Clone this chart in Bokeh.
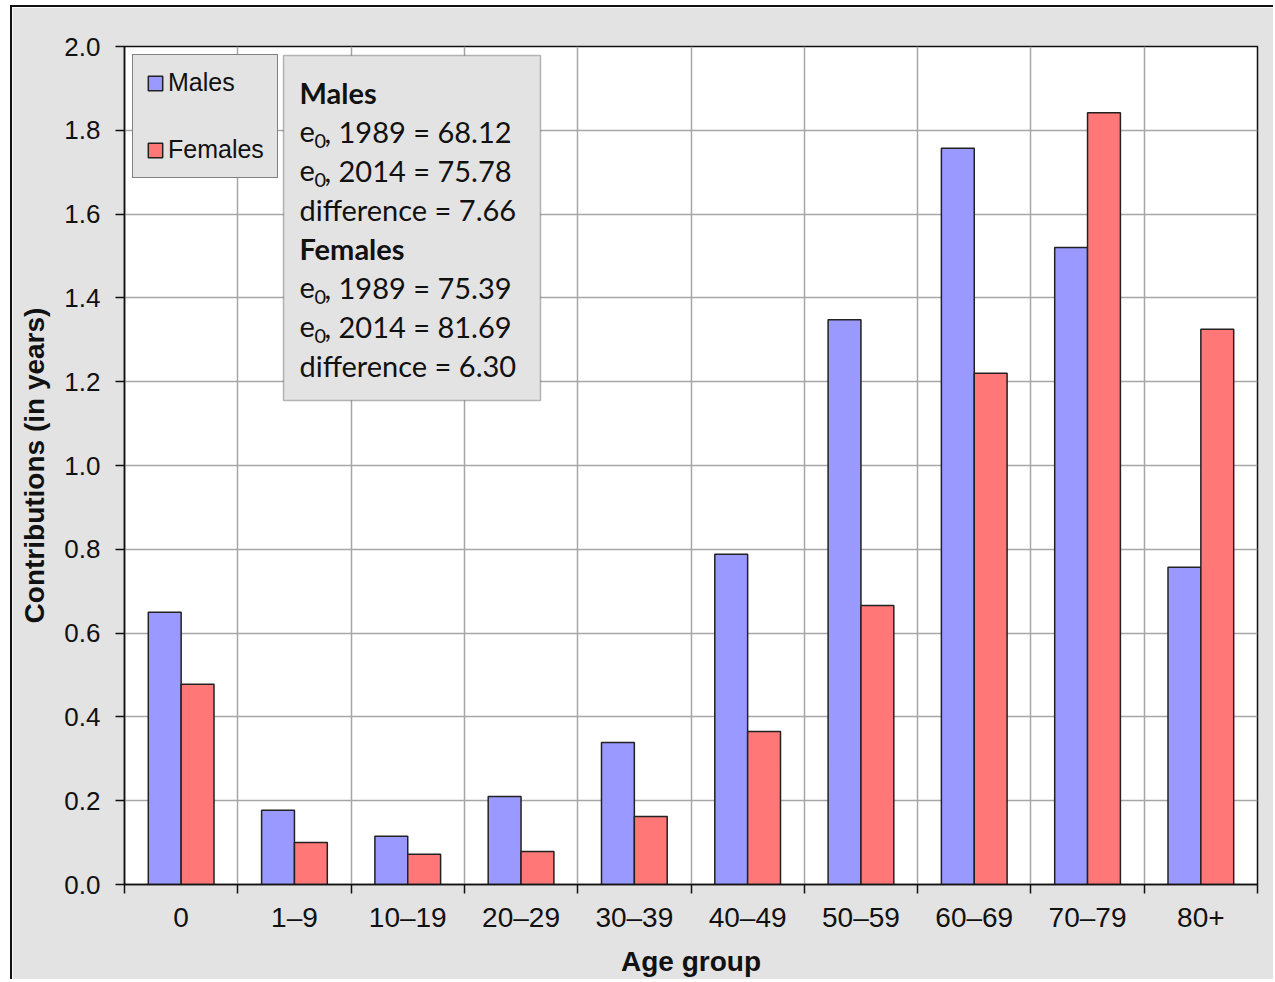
import numpy as np
from bokeh.plotting import figure
from bokeh.models import (Range1d, FixedTicker, Legend, LegendItem, Label,
                          BoxAnnotation, ColumnDataSource)
from bokeh.embed import file_html
from bokeh.resources import INLINE

categories = ["0", "1–9", "10–19", "20–29", "30–39", "40–49", "50–59", "60–69", "70–79", "80+"]
males = [0.65, 0.177, 0.115, 0.21, 0.339, 0.788, 1.348, 1.757, 1.52, 0.757]
females = [0.478, 0.10, 0.072, 0.079, 0.162, 0.365, 0.666, 1.22, 1.842, 1.325]
y_ticks = [0.0, 0.2, 0.4, 0.6, 0.8, 1.0, 1.2, 1.4, 1.6, 1.8, 2.0]

info_lines = [
    ("Males", None, None),
    ("e", "0", ", 1989 = 68.12"),
    ("e", "0", ", 2014 = 75.78"),
    ("difference = 7.66", None, None),
    ("Females", None, None),
    ("e", "0", ", 1989 = 75.39"),
    ("e", "0", ", 2014 = 81.69"),
    ("difference = 6.30", None, None),
]

GRAY = "#e3e3e3"
n = len(categories)
centers = np.arange(n) + 0.5
bw = 0.29

p = figure(frame_width=1133, frame_height=838, output_backend="svg", toolbar_location=None,
           x_range=Range1d(0, n), y_range=Range1d(0, 2.0),
           min_border_left=112, min_border_top=39, min_border_right=16, min_border_bottom=94,
           styles={"margin-left": "10px", "margin-top": "5px",
                   "border-left": "2px solid #111111", "border-top": "2px solid #111111"})
p.background_fill_color = "white"
p.border_fill_color = GRAY
p.outline_line_color = "#111111"
p.outline_line_width = 1.5

src = ColumnDataSource(dict(xm=centers - bw / 2, xf=centers + bw / 2, m=males, f=females))
rm = p.vbar(x="xm", top="m", width=bw, source=src, fill_color="#9999ff",
            line_color="#222222", line_width=1.5)
rf = p.vbar(x="xf", top="f", width=bw, source=src, fill_color="#ff7777",
            line_color="#222222", line_width=1.5)

# x axis: labels at centers, minor ticks (and grid) at boundaries
xt = FixedTicker(ticks=list(centers), minor_ticks=list(np.arange(n + 1)))
p.xaxis.ticker = xt
p.xaxis.major_label_overrides = {float(c): lab for c, lab in zip(centers, categories)}
p.xaxis.major_tick_out = 0
p.xaxis.major_tick_in = 0
p.xaxis.minor_tick_out = 9
p.xaxis.minor_tick_in = 0
p.xaxis.minor_tick_line_color = "#111111"
p.xaxis.minor_tick_line_width = 1.5
p.xaxis.axis_line_color = "#111111"
p.xaxis.axis_line_width = 1.5
p.xaxis.major_label_text_font = "Liberation Sans"
p.xaxis.major_label_text_font_size = "28px"
p.xaxis.major_label_text_color = "#111111"
p.xaxis.major_label_standoff = 8
p.xaxis.axis_label = "Age group"
p.xaxis.axis_label_text_font = "Liberation Sans"
p.xaxis.axis_label_text_font_style = "bold"
p.xaxis.axis_label_text_font_size = "28px"
p.xaxis.axis_label_text_color = "#111111"
p.xaxis.axis_label_standoff = 10

p.xgrid.grid_line_color = None
p.xgrid.minor_grid_line_color = "#a6a6a6"
p.xgrid.minor_grid_line_width = 1.5

p.yaxis.ticker = FixedTicker(ticks=y_ticks, minor_ticks=[])
p.yaxis.major_label_overrides = {t: f"{t:.1f}" for t in y_ticks}
p.yaxis.major_tick_out = 9
p.yaxis.major_tick_in = 0
p.yaxis.minor_tick_out = 0
p.yaxis.minor_tick_in = 0
p.yaxis.major_tick_line_color = "#111111"
p.yaxis.major_tick_line_width = 1.5
p.yaxis.axis_line_color = "#111111"
p.yaxis.axis_line_width = 1.5
p.yaxis.major_label_text_font = "Liberation Sans"
p.yaxis.major_label_text_font_size = "26px"
p.yaxis.major_label_text_color = "#111111"
p.yaxis.major_label_standoff = 15
p.yaxis.axis_label = "Contributions (in years)"
p.yaxis.axis_label_text_font = "Liberation Sans"
p.yaxis.axis_label_text_font_style = "bold"
p.yaxis.axis_label_text_font_size = "28px"
p.yaxis.axis_label_text_color = "#111111"
p.yaxis.axis_label_standoff = 11
p.ygrid.grid_line_color = "#a6a6a6"
p.ygrid.grid_line_width = 1.5

legend = Legend(items=[LegendItem(label="Males", renderers=[rm]),
                       LegendItem(label="Females", renderers=[rf])],
                location="top_left", margin=8)
legend.background_fill_color = GRAY
legend.background_fill_alpha = 1.0
legend.border_line_color = "#222222"
legend.border_line_width = 1.5
legend.label_text_font = "Liberation Sans"
legend.label_text_font_size = "25px"
legend.label_text_color = "#111111"
legend.label_height = 25
legend.glyph_width = 18
legend.glyph_height = 18
legend.label_standoff = 4
legend.spacing = 38
legend.padding = 13
p.add_layout(legend)

# info box (screen units relative to frame bottom-left)
box = BoxAnnotation(left=159, right=416, top=829, bottom=484,
                    left_units="screen", right_units="screen",
                    top_units="screen", bottom_units="screen",
                    fill_color=GRAY, fill_alpha=1.0, line_color="#222222", line_width=1.5)
p.add_layout(box)

x0 = 175
y0 = 792
dy = 39
for i, (a, sub, rest) in enumerate(info_lines):
    y = y0 - i * dy
    bold = a in ("Males", "Females")
    p.add_layout(Label(x=x0, y=y, x_units="screen", y_units="screen", text=a,
                       text_font="Lato", text_font_size="29px",
                       text_font_style="bold" if bold else "normal",
                       text_color="#111111", text_baseline="middle"))
    if sub is not None:
        p.add_layout(Label(x=x0 + 15, y=y - 9, x_units="screen", y_units="screen", text=sub,
                           text_font="Lato", text_font_size="20px",
                           text_color="#111111", text_baseline="middle"))
        p.add_layout(Label(x=x0 + 25, y=y, x_units="screen", y_units="screen", text=rest,
                           text_font="Lato", text_font_size="29px",
                           text_color="#111111", text_baseline="middle"))

open("out.html", "w").write(file_html(p, INLINE))
